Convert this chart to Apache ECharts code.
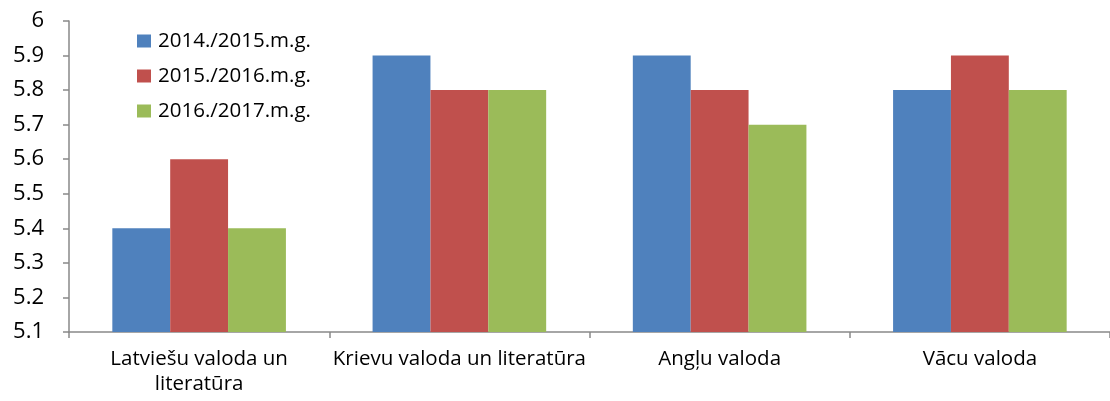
<!DOCTYPE html>
<html><head><meta charset="utf-8">
<script src="https://cdn.jsdelivr.net/npm/echarts@6/dist/echarts.min.js"></script>
<style>html,body{margin:0;padding:0;background:#fff}#c{width:1110px;height:401px}</style>
</head><body><div id="c"></div>
<script>
const categories = ["Latviešu valoda un\nliteratūra", "Krievu valoda un literatūra", "Angļu valoda", "Vācu valoda"];
const seriesNames = ["2014./2015.m.g.", "2015./2016.m.g.", "2016./2017.m.g."];
const s2014 = [5.4, 5.9, 5.9, 5.8];
const s2015 = [5.6, 5.8, 5.8, 5.9];
const s2016 = [5.4, 5.8, 5.7, 5.8];
const colors = ["#4F81BD", "#C0504D", "#9BBB59"];
const FONT = "'Open Sans', 'Noto Sans', sans-serif";
const chart = echarts.init(document.getElementById('c'));
const vals = [s2014, s2015, s2016];
chart.setOption({
  animation: false,
  grid: {left: 69, right: -9, top: 21, bottom: 69},
  legend: {
    orient: 'vertical', left: 132, top: 25, itemWidth: 14, itemHeight: 13, itemGap: 13,
    icon: 'rect',
    textStyle: {fontFamily: FONT, fontSize: 20.5, lineHeight: 22, color: '#000', padding: [0,0,0,2]},
    data: seriesNames
  },
  xAxis: {
    type: 'category', data: categories,
    axisLine: {lineStyle: {color: '#898989', width: 1.5}},
    axisTick: {show: true, interval: 0, length: 6, lineStyle: {color: '#898989', width: 1.5}},
    axisLabel: {interval: 0, hideOverlap: false, fontFamily: FONT, fontSize: 20.5, color: '#000', margin: 15, lineHeight: 25}
  },
  yAxis: {
    type: 'value', min: 5.1, max: 6, interval: 0.1,
    splitLine: {show: false},
    axisLine: {show: true, lineStyle: {color: '#898989', width: 1.5}},
    axisTick: {show: true, length: 6, lineStyle: {color: '#898989', width: 1.5}},
    axisLabel: {fontFamily: FONT, fontSize: 22, color: '#000', margin: 25,
      formatter: v => { const r = Math.round(v*10)/10; return r === 6 ? '6' : r.toFixed(1); }}
  },
  series: seriesNames.map((n, i) => ({
    name: n, type: 'bar', data: vals[i], barGap: '0%', barCategoryGap: '33.3%',
    itemStyle: {color: colors[i]}
  }))
});
</script></body></html>
